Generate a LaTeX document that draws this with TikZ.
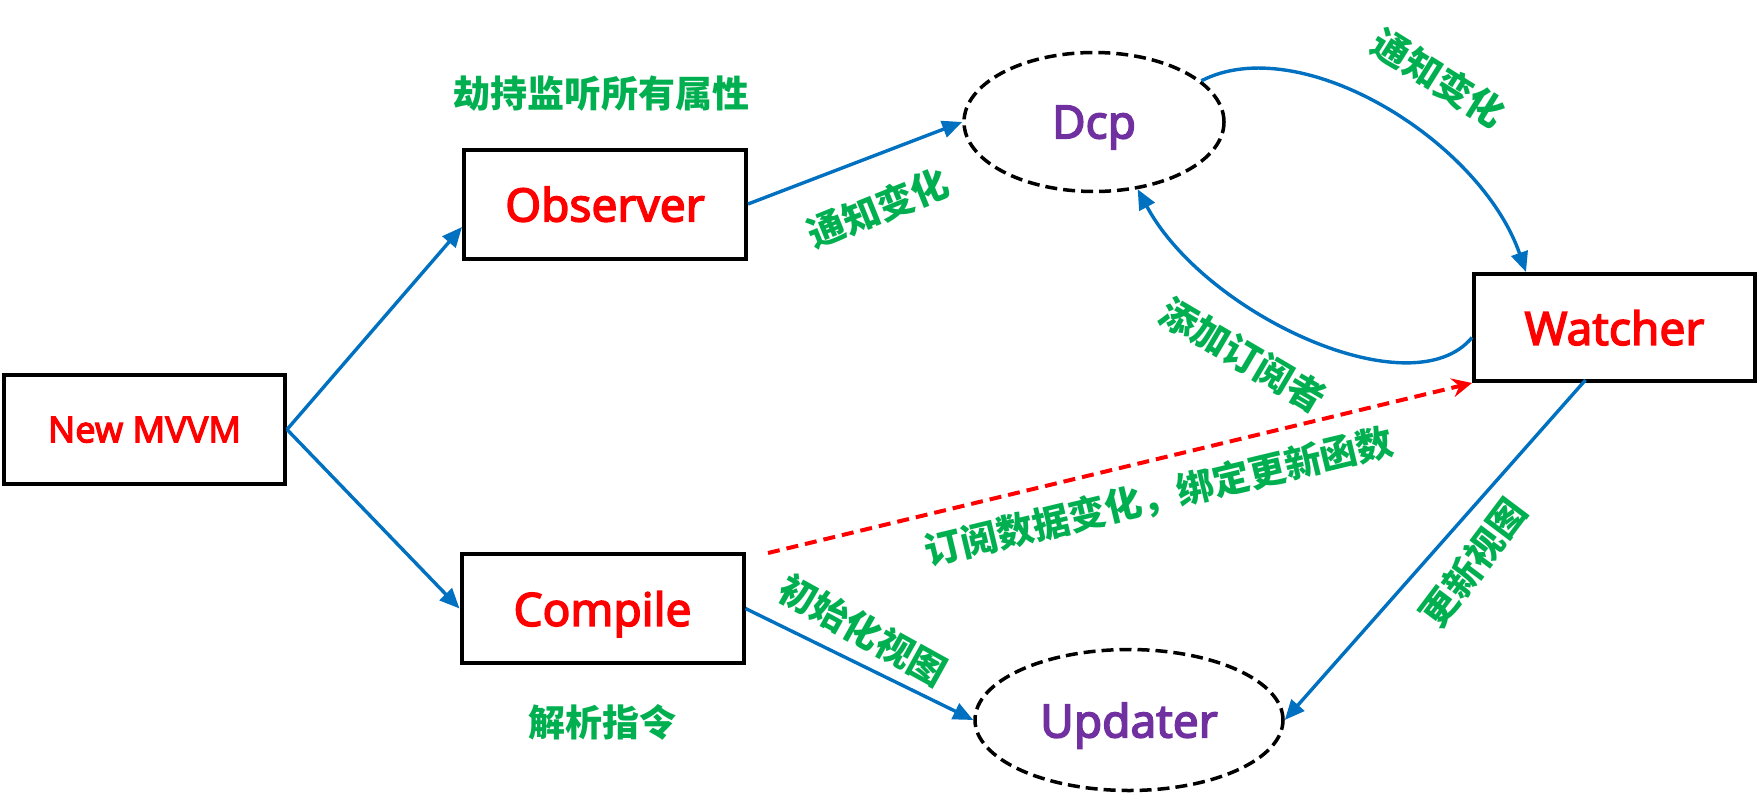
\documentclass[tikz,border=0pt]{standalone}
\usepackage{fontspec}
\setmainfont{Noto Sans}[AutoFakeBold=3.2]
\newfontfamily\cjk{Noto Sans CJK SC}
\usetikzlibrary{arrows.meta,shapes.geometric,calc}
\definecolor{blu}{HTML}{0070C0}
\definecolor{grn}{HTML}{00B050}
\definecolor{pur}{HTML}{7030A0}
\definecolor{rd}{HTML}{FF0000}
\begin{document}
\begin{tikzpicture}[x=1pt,y=-1pt,
  boxnode/.style={draw=black,line width=4pt,rectangle,inner sep=0pt,minimum width=282pt,minimum height=109pt,text=rd,font=\bfseries\fontsize{46}{50}\selectfont,text depth=0pt},
  ell/.style={draw=black,ellipse,line width=3.5pt,dash pattern=on 12pt off 6pt,inner sep=0pt,text=pur,font=\bfseries\fontsize{46}{50}\selectfont,text depth=0pt},
  lbl/.style={text=grn,font=\cjk\bfseries\fontsize{37}{40}\selectfont,inner sep=0pt},
  conn/.style={draw=blu,line width=3.4pt,-{Triangle[length=20pt,width=17pt]}},
  redarr/.style={draw=rd,line width=4pt,dash pattern=on 12pt off 7pt,-{Stealth[length=20pt,width=19pt,inset=7pt]}}]
\fill[white] (0,0) rectangle (1759,795);
\useasboundingbox (0,0) rectangle (1759,795);

\node[boxnode,minimum width=281pt,font=\bfseries\fontsize{36}{40}\selectfont] (mvvm) at (144.5,429.5) {New MVVM};
\node[boxnode] (obs) at (605,204) {Observer};
\node[boxnode] (comp) at (602.5,608.5) {Compile};
\node[boxnode,minimum width=281pt,minimum height=107pt] (watch) at (1614.5,327.5) {Watcher};
\node[ell,minimum width=260pt,minimum height=139pt] (dcp) at (1094,122) {Dcp};
\node[ell,minimum width=308pt,minimum height=141pt] (upd) at (1129,720) {Updater};

\node[lbl] (l0) at (601,94) {劫持监听所有属性};
\node[lbl] (l7) at (602,722) {解析指令};
\node[lbl,rotate=22] (l1) at (878,208) {通知变化};
\node[lbl,rotate=-32] (l2) at (1439,78) {通知变化};
\node[lbl,rotate=-30.5] (l3) at (1243,355) {添加订阅者};
\node[lbl,rotate=13.5] (l4) at (1159,497) {订阅数据变化，绑定更新函数};
\node[lbl,rotate=-29] (l5) at (863,630) {初始化视图};
\node[lbl,rotate=53] (l6) at (1473,563) {更新视图};

\coordinate (rs) at (768,553);

\draw[conn] (mvvm.east) -- ($(obs.west)+(0,23)$);
\draw[conn] (mvvm.east) -- (comp.west);
\draw[conn] (obs.east) -- (dcp.west);
\draw[conn] (dcp.21) .. controls (1300,30) and (1480,140) .. ($(watch.north west)+(54,0)$);
\draw[conn] ($(watch.west)+(0,10)$) .. controls (1412,410) and (1205,315) .. (dcp.-57);
\draw[redarr] (rs) -- (watch.south west);
\draw[conn] ($(watch.south)+(-29,-3)$) -- (upd.east);
\draw[conn] (comp.east) -- (upd.west);
\end{tikzpicture}
\end{document}
